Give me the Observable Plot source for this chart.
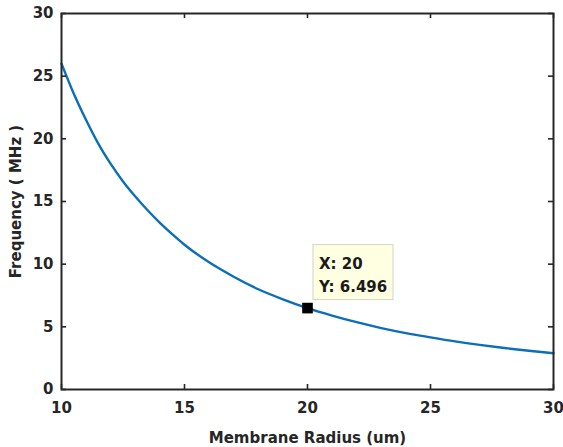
<!DOCTYPE html>
<html>
<head>
<meta charset="utf-8">
<script src="https://cdn.jsdelivr.net/npm/d3@7"></script>
<script src="https://cdn.jsdelivr.net/npm/@observablehq/plot@0.6"></script>
<style>
  html, body { margin: 0; padding: 0; background: #ffffff; }
  #chart { width: 563px; height: 447px; }
  svg { font-family: "DejaVu Sans", sans-serif; font-weight: bold; }
</style>
</head>
<body>
<div id="chart"></div>
<script>
// Resonant frequency of the membrane versus its radius
const radius    = [10, 10.5, 11, 11.5, 12, 12.5, 13, 13.5, 14, 14.5, 15, 16, 17, 18, 19, 20, 21, 22, 23, 24, 25, 26, 27, 28, 29, 30];
const frequency = [26.0, 23.6, 21.5, 19.6, 18.0, 16.6, 15.4, 14.3, 13.3, 12.4, 11.55, 10.15, 9.0, 8.0, 7.2, 6.496, 5.9, 5.37, 4.9, 4.5, 4.16, 3.84, 3.56, 3.31, 3.09, 2.89];

const xTicks = [10, 15, 20, 25, 30];
const yTicks = [0, 5, 10, 15, 20, 25, 30];

// Data tip shown on the curve
const tipX = 20;
const tipY = 6.496;

const W = 563, H = 447;
const mL = 61, mR = 10, mT = 13, mB = 58;
const innerW = W - mL - mR, innerH = H - mT - mB;
const tickLen = 5;
const axisColor = "#262626";

const points = radius.map((r, i) => ({r, f: frequency[i]}));

const chart = Plot.plot({
  width: W,
  height: H,
  marginLeft: mL,
  marginRight: mR,
  marginTop: mT,
  marginBottom: mB,
  style: {background: "#ffffff", color: axisColor},
  x: {domain: [10, 30]},
  y: {domain: [0, 30]},
  marks: [
    Plot.line(points, {x: "r", y: "f", stroke: "#0a6fb8", strokeWidth: 2.4, curve: "monotone-x"}),
    // inward ticks on all four sides
    Plot.tickX(xTicks, {x: d => d, stroke: axisColor, strokeWidth: 1.6, insetTop: innerH - tickLen}),
    Plot.tickX(xTicks, {x: d => d, stroke: axisColor, strokeWidth: 1.6, insetBottom: innerH - tickLen}),
    Plot.tickY(yTicks, {y: d => d, stroke: axisColor, strokeWidth: 1.6, insetRight: innerW - tickLen}),
    Plot.tickY(yTicks, {y: d => d, stroke: axisColor, strokeWidth: 1.6, insetLeft: innerW - tickLen}),
    Plot.frame({stroke: axisColor, strokeWidth: 2}),
    Plot.axisX({ticks: xTicks, tickSize: 0, tickPadding: 13, fontSize: 15, fill: axisColor,
      label: "Membrane Radius (um)", labelAnchor: "center", labelOffset: 53, labelArrow: "none"}),
    Plot.axisY({ticks: yTicks, tickSize: 0, tickPadding: 8, fontSize: 15, fill: axisColor,
      label: "Frequency ( MHz )", labelAnchor: "center", labelOffset: 51, labelArrow: "none"}),
    Plot.dot([{r: tipX, f: tipY}], {x: "r", y: "f", symbol: "square", r: 6, fill: "#000000", stroke: "none"})
  ]
});

document.getElementById("chart").appendChild(chart);

// Data tip box, placed from the plot's own scales
const px = chart.scale("x").apply(tipX);
const py = chart.scale("y").apply(tipY);
const svg = d3.select(chart);
const tip = svg.append("g").attr("transform", `translate(${px + 6},${py - 63})`);
tip.append("rect")
  .attr("width", 80).attr("height", 55)
  .attr("fill", "#ffffe1").attr("stroke", "#d4d4c4").attr("stroke-width", 1);
tip.append("text")
  .attr("x", 6).attr("y", 24)
  .attr("text-anchor", "start")
  .attr("font-size", 15).attr("font-weight", "bold").attr("fill", "#1a1a1a")
  .text(`X: ${tipX}`);
tip.append("text")
  .attr("x", 6).attr("y", 47.5)
  .attr("text-anchor", "start")
  .attr("font-size", 15).attr("font-weight", "bold").attr("fill", "#1a1a1a")
  .text(`Y: ${tipY}`);
</script>
</body>
</html>
